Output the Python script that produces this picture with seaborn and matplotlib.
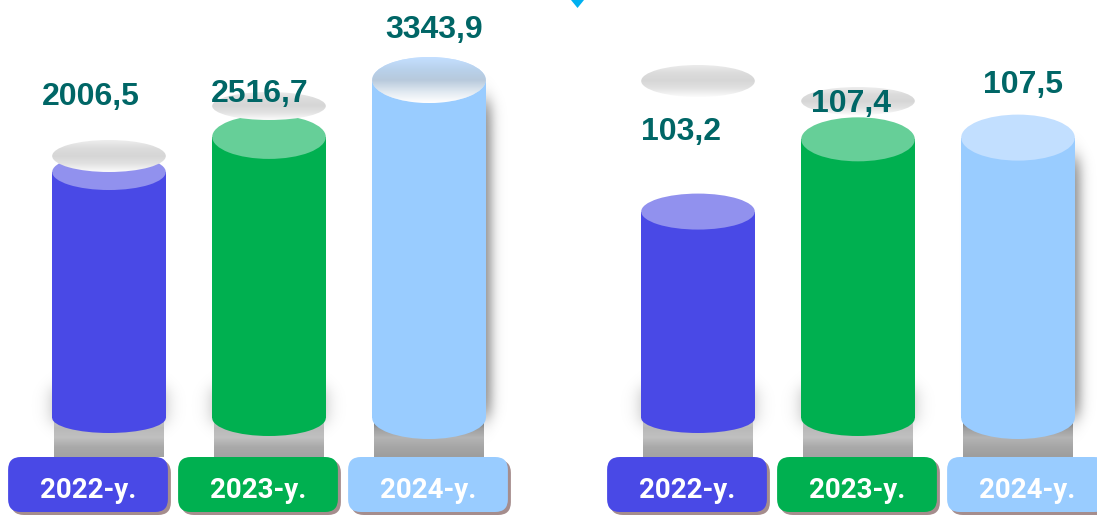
import numpy as np
import pandas as pd
import seaborn as sns
import matplotlib.pyplot as plt
from matplotlib.patches import Ellipse, FancyBboxPatch, Polygon
from matplotlib.colors import LinearSegmentedColormap

# data
YEARS = ["2022-y.", "2023-y.", "2024-y."]
LEFT_VALUES = [2006.5, 2516.7, 3343.9]
RIGHT_VALUES = [103.2, 107.4, 107.5]

BODY_COLORS = ["#4949e6", "#00b050", "#99ccff"]
CAP_COLORS = ["#9191ee", "#66cf98", "#c2dfff"]
VALUE_COLOR = "#006666"
BOX_SHADOW = "#a58d8d"

W, H = 1097, 515
BASE_PX = 418            # pixel row of the cylinder bottoms
BOX_TOP, BOX_BOTTOM = 457, 512
CAP_PX = [36, 44, 46]    # cap ellipse heights (perspective)
FOOT_PX = [30, 36, 42]

sns.set_theme(style="white")
plt.rcParams["font.family"] = ["Liberation Sans", "DejaVu Sans"]

fig = plt.figure(figsize=(W / 100, H / 100), dpi=100)


def frac(left, top, width, height):
    return [left / W, 1 - (top + height) / H, width / W, height / H]


def gradient(ax, x0, x1, y0, y1, colors, z, clip=None):
    cmap = LinearSegmentedColormap.from_list("g", colors)
    im = ax.imshow(np.linspace(0, 1, 64).reshape(-1, 1), cmap=cmap,
                   extent=(x0, x1, y0, y1), aspect="auto", origin="upper",
                   zorder=z, interpolation="bilinear")
    if clip is not None:
        im.set_clip_path(clip)
    else:
        im.set_clip_on(False)
    return im


def soft_shadow(ax, x0, x1, y0, y1, sx, sy, alpha, z):
    xs = np.linspace(x0 - 3 * sx, x1 + 3 * sx, 90)
    ys = np.linspace(y1 + 3 * sy, y0 - 3 * sy, 140)
    px = 0.5 * (np.tanh((xs - x0) / sx) - np.tanh((xs - x1) / sx))
    py = 0.5 * (np.tanh((ys - y0) / sy) - np.tanh((ys - y1) / sy))
    rgba = np.zeros((len(ys), len(xs), 4))
    rgba[..., 3] = np.outer(py, px) * alpha
    im = ax.imshow(rgba, extent=(xs[0], xs[-1], ys[-1], ys[0]), aspect="auto",
                   origin="upper", zorder=z, interpolation="bilinear")
    im.set_clip_on(False)


panels = [
    dict(values=LEFT_VALUES, left=29, base=-1569, top=4507, box_left=3,
         nudge=[(-18, 67), (-9, 35), (5, 42)],
         glare=[(156, 32), (106, 28), None], shine=True),
    dict(values=RIGHT_VALUES, left=618, base=91.2, top=115.5, box_left=602,
         nudge=[(-17, 72), (-7, 27), (5, 45)],
         glare=[(81, 32), (101, 28), None], shine=False),
]

for p in panels:
    base = p["base"]
    ax = fig.add_axes(frac(p["left"], 0, 480, BASE_PX))
    df = pd.DataFrame({"year": YEARS, "value": p["values"]})
    df["height"] = df["value"] - base
    sns.barplot(data=df, x="year", y="height", hue="year", palette=BODY_COLORS,
                saturation=1, width=0.71, bottom=base, errorbar=None,
                legend=False, ax=ax, linewidth=0, edgecolor="none", zorder=3)
    ppx = 160.0
    ppy = BASE_PX / (p["top"] - base)

    for i, bar in enumerate(list(ax.patches)):
        x0, w = bar.get_x(), bar.get_width()
        xc = x0 + w / 2
        top = bar.get_y() + bar.get_height()
        low = base - (BOX_TOP - BASE_PX) / ppy

        # shadows
        if i < 2:
            soft_shadow(ax, x0, x0 + w, base - 5 / ppy, base + 30 / ppy,
                        10 / ppx, 10 / ppy, 0.3, 1)
        else:
            soft_shadow(ax, x0 + 14 / ppx, x0 + w + 6 / ppx, base, top - 20 / ppy,
                        7 / ppx, 12 / ppy, 0.45, 1)

        # grey plinth under the cylinder
        if i < 2:
            cols = ["#c6c6c6", "#b9b9b9", "#c0c0c0", "#a9a9a9", "#a3a3a3"]
        else:
            cols = ["#5e5e5e", "#9c9c9c", "#b4b4b4", "#a6a6a6", "#9e9e9e"]
        gradient(ax, x0 + 2 / ppx, x0 + w - 2 / ppx, low, base, cols, 2)

        ax.add_patch(Ellipse((xc, base), w, FOOT_PX[i] / ppy, fc=BODY_COLORS[i],
                             ec="none", zorder=3, clip_on=False))
        cap = Ellipse((xc, top), w, CAP_PX[i] / ppy, fc=CAP_COLORS[i],
                      ec="none", zorder=4)
        ax.add_patch(cap)
        if i == 2 and p["shine"]:
            ch = CAP_PX[i] / ppy
            gradient(ax, x0, x0 + w, top - ch / 2, top + ch / 2,
                     ["#c4dfff", "#b9d2ec", "#b7c9dc", "#dfe8f0", "#ffffff"], 5, clip=cap)

        g = p["glare"][i]
        if g is not None:
            gy = base + (BASE_PX - g[0]) / ppy
            gh = g[1] / ppy
            gl = Ellipse((xc, gy), w * 1.0, gh, fc="none", ec="none",
                         transform=ax.transData)
            ax.add_patch(gl)
            gradient(ax, x0, x0 + w, gy - gh / 2, gy + gh / 2,
                     ["#ededed", "#dcdcdc", "#d6d6d6", "#e2e2e2", "#fbfbfb"], 6, clip=gl)

        dx, dy = p["nudge"][i]
        ax.annotate(f"{p['values'][i]:.1f}".replace(".", ","), xy=(xc, top),
                    xytext=(dx, dy), textcoords="offset pixels", ha="center",
                    va="baseline", fontsize=23, fontweight="bold",
                    color=VALUE_COLOR, zorder=10, annotation_clip=False)

    ax.set_xlim(-0.5, 2.5)
    ax.set_ylim(base, p["top"])
    ax.axis("off")

for p in panels:
    lab = fig.add_axes(frac(p["box_left"], BOX_TOP, 510, BOX_BOTTOM - BOX_TOP))
    lab.set_xlim(-0.5, 2.5)
    lab.set_ylim(0, 1)
    lab.axis("off")
    aspect = 170 / (BOX_BOTTOM - BOX_TOP)
    for i, year in enumerate(YEARS):
        for ox, oy, col in [(3 / 170, -3 / 55, BOX_SHADOW), (0, 0, BODY_COLORS[i])]:
            lab.add_patch(FancyBboxPatch((i - 0.47 + ox, oy), 0.94, 1,
                                         boxstyle="round,pad=0,rounding_size=0.075",
                                         mutation_aspect=aspect, fc=col, ec="none",
                                         clip_on=False))
        lab.text(i, 14 / 55, year, ha="center", va="baseline", color="white",
                 fontsize=20, fontweight="bold", family=["Roboto", "DejaVu Sans"])

# small marker at the top edge
fig.patches.append(Polygon([[571 / W, 1], [584 / W, 1], [577.5 / W, 1 - 8 / H]],
                           closed=True, transform=fig.transFigure,
                           fc="#00b0f0", ec="none"))

fig.savefig("out.png", dpi=100)
